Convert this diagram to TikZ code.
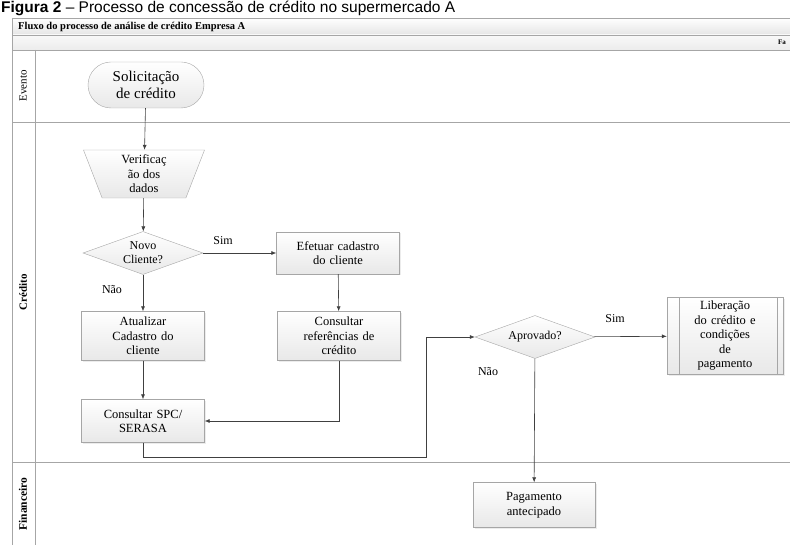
\documentclass[tikz,border=0pt]{standalone}
\usepackage{fontspec}
\setmainfont{Liberation Serif}
\newfontfamily\capfont{Liberation Sans}
\usetikzlibrary{shapes.geometric,shapes.misc,positioning,arrows.meta,shadows}
\tikzset{
  lane/.style={draw=gray!70, line width=0.8pt},
  proc/.style={draw=gray!70, top color=white, bottom color=gray!18, minimum width=123pt,
    minimum height=46pt, text width=118pt, align=center, inner sep=1pt,
    font=\fontsize{12.5}{14.5}\selectfont, drop shadow={opacity=0.15, shadow xshift=1.5pt, shadow yshift=-1.5pt}},
  decis/.style={diamond, draw=gray!70, top color=white, bottom color=gray!18, aspect=2.8,
    minimum width=120pt, minimum height=43pt, inner sep=0pt},
  evt/.style={rounded rectangle, draw=gray!70, top color=white, bottom color=gray!18,
    minimum width=118pt, minimum height=46pt, inner sep=1pt, align=center, font=\fontsize{15}{17}\selectfont},
  manual/.style={trapezium, shape border rotate=180, trapezium left angle=65,
    trapezium right angle=65, trapezium stretches body, draw=gray!70, top color=white,
    bottom color=gray!18, minimum width=121pt, minimum height=48pt, inner sep=1pt, align=center,
    font=\fontsize{12.5}{14.5}\selectfont},
  lab/.style={font=\fontsize{12}{14}\selectfont, align=center},
  flow/.style={draw=gray!50!black, line width=0.6pt, -{Latex[length=5pt,width=4pt]}}
}
\begin{document}
\begin{tikzpicture}[x=1pt,y=-1pt]
\useasboundingbox (0,0) rectangle (790,545);
\clip (0,0) rectangle (790,545);
\node[anchor=base west, font=\capfont\fontsize{15.5}{17}\selectfont, inner sep=0pt] (cap) at (1,12.5)
  {\textbf{Figura 2} – Processo de concessão de crédito no supermercado A};
% moldura e raias
\shade[top color=white, bottom color=gray!20] (12,18) rectangle (795,35);
\shade[top color=gray!5, bottom color=gray!15] (12,35) rectangle (795,50);
\draw[lane] (12,18) -- (795,18) (12,35) -- (795,35) (12,50) -- (795,50);
\draw[lane] (12,18) -- (12,545) (35,50) -- (35,545);
\draw[lane] (12,122) -- (795,122) (12,462) -- (795,462);
\node[anchor=west, font=\bfseries\fontsize{10.5}{12}\selectfont, inner sep=0pt] (titulo) at (18,26.5)
  {Fluxo do processo de análise de crédito Empresa A};
\node[anchor=west, font=\bfseries\fontsize{7}{8}\selectfont, inner sep=0pt] (fase) at (778,42.5) {Fa};
\node[rotate=90, font=\fontsize{11}{12}\selectfont] (evento) at (23,86) {Evento};
\node[rotate=90, font=\bfseries\fontsize{11}{12}\selectfont] (credito) at (23,292) {Crédito};
\node[rotate=90, font=\bfseries\fontsize{11.5}{12}\selectfont] (financeiro) at (23,504) {Financeiro};
% etapas
\node[evt] (solic) at (146,85) {Solicitação\\de crédito};
\node[manual] (verif) at (144,174) {Verificaç\\ão dos\\dados};
\node[decis] (novo) at (143,253) {};
\node[lab] (novotxt) at (novo) {Novo\\Cliente?};
\node[proc, minimum height=42pt] (cadastro) at (338,253) {Efetuar cadastro\\do cliente};
\node[proc, minimum height=49pt] (atual) at (143,336) {Atualizar\\Cadastro do\\cliente};
\node[proc, minimum height=49pt] (consref) at (339,336) {Consultar\\referências de\\crédito};
\node[proc, minimum height=43pt] (spc) at (143,421) {Consultar SPC/\\SERASA};
\node[decis] (aprov) at (535,337) {};
\node[lab] (aprovtxt) at (aprov) {Aprovado?};
\node[proc, minimum width=116pt, text width=92pt, minimum height=77pt] (lib) at (725,336)
  {Liberação\\do crédito e\\condições\\de\\pagamento};
\draw[draw=gray!70] ([xshift=12pt]lib.north west) -- ([xshift=12pt]lib.south west)
  ([xshift=-6pt]lib.north east) -- ([xshift=-6pt]lib.south east);
\node[proc, minimum width=122pt, minimum height=45pt] (pag) at (534,505) {Pagamento\\antecipado};
% ligacoes
\coordinate (desvio) at (426,457);
\draw[flow] (solic) -- (verif);
\draw[flow] (verif) -- (novo);
\draw[flow] (novo) -- (cadastro);
\draw[flow] (novo) -- (atual);
\draw[flow] (cadastro) -- (consref);
\draw[flow] (atual) -- (spc);
\draw[flow] (consref.south) |- (spc.east);
\draw[flow] (spc.south) |- (desvio) |- (aprov.west);
\draw[flow] (aprov) -- (lib);
\draw[flow] (aprov) -- (pag);
\node[lab] (sim1) at (223,241) {Sim};
\node[lab] (nao1) at (112,290) {Não};
\node[lab] (sim2) at (615,319) {Sim};
\node[lab] (nao2) at (488,372) {Não};
\end{tikzpicture}
\end{document}
